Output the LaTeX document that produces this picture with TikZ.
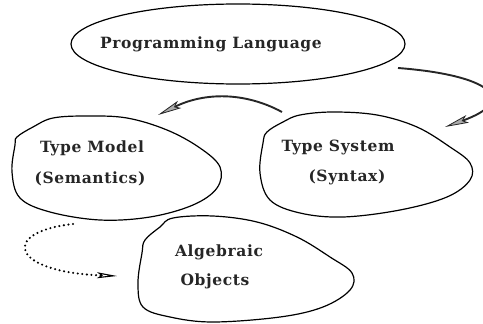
\documentclass[tikz,border=0pt]{standalone}
\usepackage{fontspec}
\setmainfont{DejaVu Serif}
\newfontfamily\widefont[LetterSpace=4]{DejaVu Serif}
\usetikzlibrary{shapes.geometric,arrows.meta}
\tikzset{
  blob/.style={draw=black, line width=1.2pt},
  lbl/.style={font=\widefont\fontsize{15.5}{18}\selectfont\bfseries, text=black!85, inner sep=0pt},
  arr/.style={draw=black!85, line width=1.9pt, -{Stealth[length=24pt,width=8pt,inset=5pt,fill=gray!65,line width=0.8pt]}},
  dotarr/.style={draw=black, line width=2.3pt, line cap=round, dash pattern=on 0pt off 4.6pt,
    -{Stealth[length=20pt,width=6pt,inset=4pt,open,line width=1.1pt]}}
}
\begin{document}
\begin{tikzpicture}[x=1pt,y=-1pt]
\useasboundingbox (0,0) rectangle (483,324);
% top ellipse
\node[ellipse, draw, line width=1.2pt, minimum width=334pt, minimum height=80pt, inner sep=0pt] (pl) at (238,44) {};
\node[lbl] (plt) at (211,44) {Programming Language};
% Type Model blob
\draw[blob] plot[smooth cycle, tension=0.6] coordinates {
 (17,137) (33,127) (53,118) (87,116) (127,118) (167,130) (200,148) (220,167)
 (217,188) (193,205) (150,217) (100,220) (50,212) (20,198) (12,172) (15,145)};
\node[lbl] (tm1) at (92,148) {Type Model};
\node[lbl] (tm2) at (90,179) {(Semantics)};
% Type System blob
\draw[blob] plot[smooth cycle, tension=0.6] coordinates {
 (267,132) (283,122) (300,115) (333,112) (377,115) (417,127) (450,147) (470,163)
 (470,180) (447,197) (400,210) (343,217) (300,213) (270,200) (260,173) (263,143)};
\node[lbl] (ts1) at (338,147) {Type System};
\node[lbl] (ts2) at (347,177) {(Syntax)};
% Algebraic Objects blob
\draw[blob] plot[smooth cycle, tension=0.6] coordinates {
 (145,240) (160,227) (173,218) (213,216) (257,222) (297,237) (330,257) (352,273)
 (350,290) (323,307) (280,317) (213,322) (170,317) (143,307) (138,283) (142,253)};
\node[lbl] (ao1) at (219,252) {Algebraic};
\node[lbl] (ao2) at (215,281) {Objects};
% connector endpoints
\coordinate (a1s) at (282,112);
\coordinate (a1e) at (158,115);
\coordinate (a2s) at (398,68);
\coordinate (a2e) at (445,127);
\coordinate (a3s) at (73,224);
\coordinate (a3e) at (117,276);
\draw[arr] (a1s) .. controls (245,92) and (205,92) .. (a1e);
\draw[arr] (a2s) .. controls (490,75) and (520,100) .. (a2e);
\draw[dotarr] (a3s) .. controls (0,232) and (10,272) .. (a3e);
\end{tikzpicture}
\end{document}
